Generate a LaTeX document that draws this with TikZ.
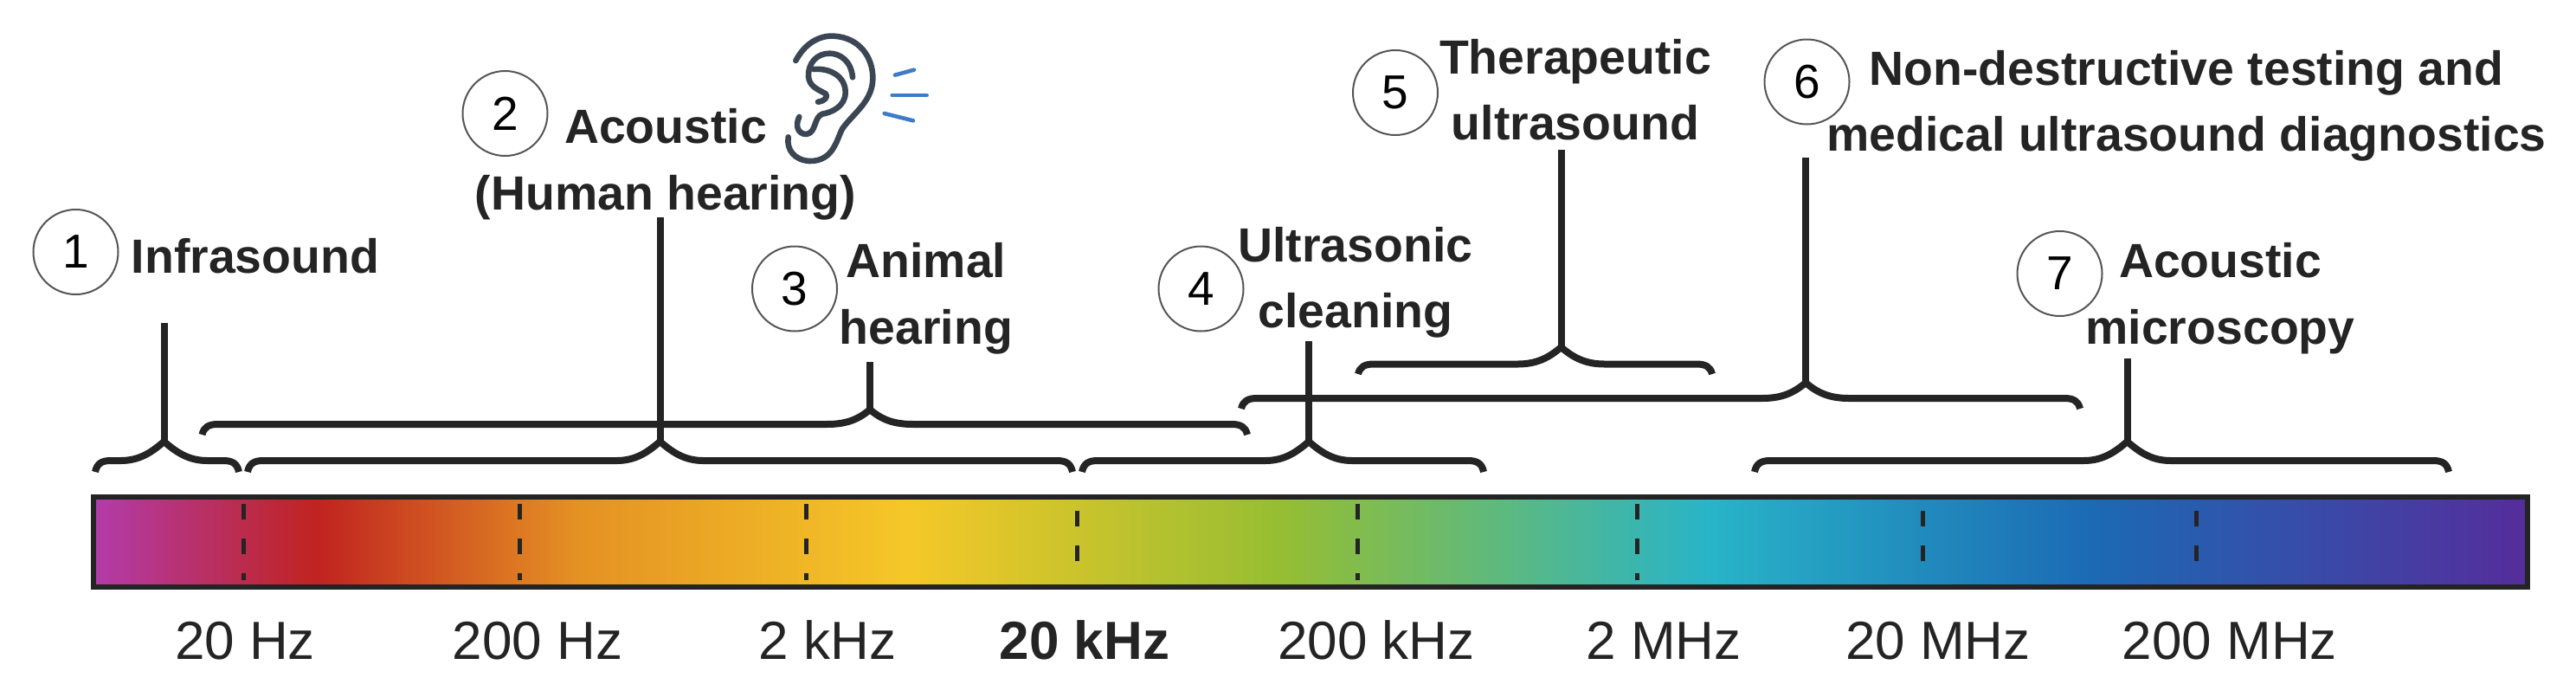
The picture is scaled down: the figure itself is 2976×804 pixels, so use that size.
\documentclass[tikz,border=0pt]{standalone}
\usepackage{fontspec}
\setmainfont{Liberation Sans}
\definecolor{ink}{HTML}{242424}
\definecolor{ringc}{HTML}{555555}
\definecolor{earc}{HTML}{3B4654}
\definecolor{wavec}{HTML}{3F7CC8}
\definecolor{sA}{RGB}{178,60,170}
\definecolor{sB}{RGB}{192,35,32}
\definecolor{sC}{RGB}{228,145,35}
\definecolor{sD}{RGB}{245,200,40}
\definecolor{sE}{RGB}{150,190,50}
\definecolor{sF}{RGB}{40,180,200}
\definecolor{sG}{RGB}{28,105,180}
\definecolor{sH}{RGB}{85,45,155}
\pgfdeclarehorizontalshading{barshade}{100bp}{color(0bp)=(sA); color(25bp)=(sA); color(29.58bp)=(sB); color(34.93bp)=(sC); color(41.79bp)=(sD); color(49.36bp)=(sE); color(58.21bp)=(sF); color(66.13bp)=(sG); color(75bp)=(sH); color(100bp)=(sH)}
\tikzset{
  ring/.style={circle,draw=ringc,line width=1pt,minimum size=49pt,inner sep=0pt,text=black,font=\fontsize{27.5}{30}\selectfont},
  title/.style={anchor=base,align=center,inner sep=0pt,text=ink,font=\fontsize{27.7}{38.25}\selectfont\bfseries},
  freq/.style={anchor=base,inner sep=0pt,text=ink,font=\fontsize{31}{36}\selectfont},
  bracket/.style={draw=ink,line width=4pt,line cap=butt,line join=round},
  tick/.style={draw=ink,line width=2.5pt,dash pattern=on 9pt off 11pt},
  earline/.style={draw=earc,line width=3.3pt,line cap=round,line join=round},
  waveline/.style={draw=wavec,line width=2.3pt,line cap=round}
}
% name, left x, tip x, right x, foot y, level y, tip y, stem top y
\newcommand{\specbracket}[8]{%
  \coordinate (#1top) at (#3,#8);
  \coordinate (#1tip) at (#3,#7);
  \draw[bracket] (#2,#5) .. controls (#2+2,#6+3) and (#2+8,#6) .. (#2+18,#6)
    -- (#3-50,#6) .. controls (#3-28,#6) and (#3-14,#7+12) .. (#1tip)
    .. controls (#3+14,#7+12) and (#3+28,#6) .. (#3+50,#6)
    -- (#4-18,#6) .. controls (#4-8,#6) and (#4-2,#6+3) .. (#4,#5);
  \draw[bracket] (#1top) -- (#1tip);
}
\begin{document}
\begin{tikzpicture}[x=0.5pt,y=-0.5pt]
\useasboundingbox (0,0) rectangle (2976,804);
% spectrum bar
\node[name=bar,rectangle,draw=ink,line width=3pt,shading=barshade,inner sep=0pt,outer sep=0pt,minimum width=1406pt,minimum height=52pt] at (1513.5,626) {};
% ticks
\foreach \tx/\ty in {281/582,600/582,931/582,1244/590,1568/582,1891/582,2221/590,2537/590}
  \draw[tick] (\tx,\ty) -- (\tx,670);
% frequency labels
\node[freq] (f1) at (283,761) {20 Hz};
\node[freq] (f2) at (621,761) {200 Hz};
\node[freq] (f3) at (956,761) {2 kHz};
\node[freq,font=\fontsize{31}{36}\selectfont\bfseries] (f4) at (1253,761) {20 kHz};
\node[freq] (f5) at (1590,761) {200 kHz};
\node[freq] (f6) at (1922,761) {2 MHz};
\node[freq] (f7) at (2239,761) {20 MHz};
\node[freq] (f8) at (2576,761) {200 MHz};
% brackets
\specbracket{a}{110}{189.5}{276}{545}{532}{510}{373}
\specbracket{c}{233.5}{1005}{1441}{502}{490}{473}{418}
\specbracket{b}{286}{762.5}{1239}{545}{532}{510}{251}
\specbracket{f}{1434}{2086}{2403}{472}{460}{442}{182}
\specbracket{d}{1250}{1512}{1714}{545}{532}{510}{394}
\specbracket{e}{1569}{1803.5}{1978}{432}{420.5}{401}{173}
\specbracket{g}{2027}{2457.5}{2829}{545}{532}{510}{414}
% numbered circles
\node[ring] (n1) at (87.5,291) {1};
\node[ring] (n2) at (583.5,131) {2};
\node[ring] (n3) at (918,333.5) {3};
\node[ring] (n4) at (1387.5,333.5) {4};
\node[ring] (n5) at (1612,107) {5};
\node[ring] (n6) at (2087.5,94.5) {6};
\node[ring] (n7) at (2379.5,316) {7};
% titles
\node[title] (t1) at (295,315) {Infrasound};
\node[title] (t2a) at (769,165) {Acoustic};
\node[title] (t2b) at (769,242) {(Human hearing)};
\node[title] (t3) at (1070,397) {Animal\\hearing};
\node[title] (t4) at (1566,378.5) {Ultrasonic\\cleaning};
\node[title] (t5) at (1820,161.5) {Therapeutic\\ultrasound};
\node[title] (t6) at (2526,174.5) {Non-destructive testing and\\medical ultrasound diagnostics};
\node[title] (t7) at (2565,397) {Acoustic\\microscopy};
% ear icon
\begin{scope}[xshift=430pt,yshift=-10pt,x=0.16667pt,y=-0.16667pt]
\draw[earline] (178,150) .. controls (210,90) and (260,62) .. (310,65)
  .. controls (400,70) and (445,140) .. (445,210)
  .. controls (445,290) and (380,330) .. (340,385)
  .. controls (320,420) and (310,500) .. (225,498)
  .. controls (175,495) and (145,460) .. (152,415);
\draw[earline] (375,208) .. controls (370,150) and (330,125) .. (295,125)
  .. controls (250,125) and (220,160) .. (222,205)
  .. controls (225,240) and (255,250) .. (282,265)
  .. controls (290,275) and (280,290) .. (255,293);
\draw[earline] (240,180) .. controls (290,175) and (350,200) .. (350,260)
  .. controls (350,310) and (300,330) .. (270,335)
  .. controls (240,345) and (250,400) .. (215,405)
  .. controls (185,405) and (175,375) .. (190,345);
\draw[waveline] (522,200) -- (588,182);
\draw[waveline] (512,270) -- (632,270);
\draw[waveline] (485,333) -- (585,358);
\end{scope}
\end{tikzpicture}
\end{document}
